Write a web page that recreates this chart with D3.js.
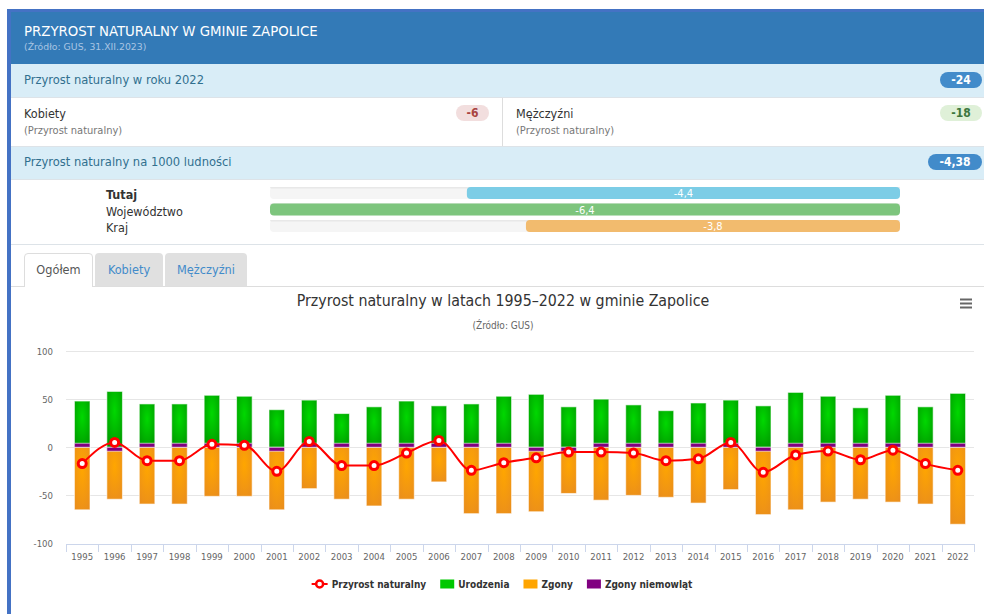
<!DOCTYPE html>
<html>
<head>
<meta charset="utf-8">
<script src="https://cdn.jsdelivr.net/npm/d3@7"></script>
<style>
  body { margin: 0; background: #fff; }
  svg { display: block; font-family: "DejaVu Sans Condensed", "DejaVu Sans", sans-serif; }
</style>
</head>
<body>
<svg id="page" width="984" height="614"></svg>
<script>
// ---- data ----
var years = [1995, 1996, 1997, 1998, 1999, 2000, 2001, 2002, 2003, 2004, 2005, 2006, 2007, 2008,
  2009, 2010, 2011, 2012, 2013, 2014, 2015, 2016, 2017, 2018, 2019, 2020, 2021, 2022];
var births = [48, 58, 45, 45, 54, 53, 39, 49, 35, 42, 48, 43, 45, 53,
  55, 42, 50, 44, 38, 46, 49, 43, 57, 53, 41, 54, 42, 56];
var deaths = [65, 53, 59, 59, 51, 51, 64, 43, 54, 61, 54, 36, 69, 69,
  66, 47, 55, 50, 52, 58, 44, 69, 65, 57, 54, 57, 59, 80];
var infantDeaths = [0, 1, 0, 0, 0, 0, 1, 0, 0, 0, 0, 0, 0, 0,
  1, 1, 0, 0, 0, 0, 0, 1, 0, 0, 0, 0, 0, 0];
var natural = [-17, 5, -14, -14, 3, 2, -25, 6, -19, -19, -6, 7, -24, -16,
  -11, -5, -5, -6, -14, -12, 5, -26, -8, -4, -13, -3, -17, -24];

var yTicks = [-100, -50, 0, 50, 100];

var seriesNames = ["Przyrost naturalny", "Urodzenia", "Zgony", "Zgony niemowląt"];
var seriesColors = ["#ff0000", "#00c800", "#ffa500", "#800080"];

var totalLabel = "Przyrost naturalny w roku 2022";
var totalValue = "-24";
var sexLabels = ["Kobiety", "Mężczyźni"];
var sexValues = ["-6", "-18"];
var rateLabel = "Przyrost naturalny na 1000 ludności";
var rateValue = "-4,38";
var compareLabels = ["Tutaj", "Województwo", "Kraj"];
var compareValues = [-4.4, -6.4, -3.8];
var compareColors = ["#7ccde6", "#7dc57d", "#f2bb6e"];
var tabLabels = ["Ogółem", "Kobiety", "Mężczyźni"];

var svg = d3.select("#page"),
  width = +svg.attr("width"),
  height = +svg.attr("height");

// ---- panel frame ----
svg.append("rect").attr("x", 11).attr("y", 12).attr("width", width - 11).attr("height", 52)
  .attr("fill", "#337ab7");
svg.append("rect").attr("x", 7).attr("y", 9).attr("width", width - 7).attr("height", 3)
  .attr("fill", "#4472c4");
svg.append("rect").attr("x", 7).attr("y", 9).attr("width", 4).attr("height", height - 9)
  .attr("fill", "#4472c4");

svg.append("text").attr("x", 24).attr("y", 36)
  .style("font-size", "14.8px").style("fill", "#fff")
  .text("PRZYROST NATURALNY W GMINIE ZAPOLICE");
svg.append("text").attr("x", 24).attr("y", 50)
  .style("font-family", "\"DejaVu Sans\", sans-serif")
  .style("font-size", "9.3px").style("fill", "#a9c5e3")
  .text("(Źródło: GUS, 31.XII.2023)");

function badge(xRight, yTop, w, text, bg, fg) {
  svg.append("rect").attr("x", xRight - w).attr("y", yTop).attr("width", w).attr("height", 16)
    .attr("rx", 8).attr("fill", bg);
  svg.append("text").attr("x", xRight - w / 2).attr("y", yTop + 12)
    .attr("text-anchor", "middle")
    .style("font-size", "12px").style("font-weight", "bold").style("fill", fg)
    .text(text);
}

function infoRow(y0, h, label, value, bw) {
  svg.append("rect").attr("x", 11).attr("y", y0).attr("width", width - 11).attr("height", h)
    .attr("fill", "#d9edf7");
  svg.append("text").attr("x", 24).attr("y", y0 + 20)
    .style("font-size", "12.8px").style("fill", "#31708f").text(label);
  badge(982, y0 + 8, bw, value, "#428bca", "#fff");
}

infoRow(64, 33, totalLabel, totalValue, 42);

// men / women cells
var sexX = [24, 516],
  sexRight = [489, 982],
  sexBadge = [["#f2dede", "#a94442", 33], ["#dff0d8", "#3c763d", 42]];
sexLabels.forEach(function(d, i) {
  svg.append("text").attr("x", sexX[i]).attr("y", 118)
    .style("font-size", "12.5px").style("fill", "#333").text(d);
  svg.append("text").attr("x", sexX[i]).attr("y", 134)
    .style("font-size", "11px").style("fill", "#777").text("(Przyrost naturalny)");
  badge(sexRight[i], 105, sexBadge[i][2], sexValues[i], sexBadge[i][0], sexBadge[i][1]);
});
svg.append("line").attr("x1", 502.5).attr("x2", 502.5).attr("y1", 97).attr("y2", 146)
  .style("stroke", "#ddd");

infoRow(146, 33, rateLabel, rateValue, 54);

[97, 146, 179, 244].forEach(function(yy) {
  svg.append("line").attr("x1", 11).attr("x2", width).attr("y1", yy + 0.5).attr("y2", yy + 0.5)
    .style("stroke", "#dde3e8");
});

// comparison bars
var barScale = d3.scaleLinear()
  .domain([0, d3.max(compareValues, function(d) { return Math.abs(d); })])
  .range([0, 630]);
var cmp = svg.append("g").selectAll("g").data(compareValues).enter().append("g")
  .attr("transform", function(d, i) { return "translate(0," + (187 + i * 16.5) + ")"; });
cmp.append("rect").attr("x", 270).attr("width", 630).attr("height", 12).attr("rx", 4)
  .attr("fill", "#f5f5f5");
cmp.append("rect").attr("x", 270).attr("width", 630).attr("height", 1.5).attr("rx", 1)
  .attr("fill", "#e8e8e8");
cmp.append("rect")
  .attr("x", function(d) { return 900 - barScale(Math.abs(d)); })
  .attr("width", function(d) { return barScale(Math.abs(d)); })
  .attr("height", 12).attr("rx", 4)
  .attr("fill", function(d, i) { return compareColors[i]; });
cmp.append("text")
  .attr("x", function(d) { return 900 - barScale(Math.abs(d)) / 2; })
  .attr("y", 10).attr("text-anchor", "middle")
  .style("font-size", "11px").style("fill", "#fff")
  .text(function(d) { return String(d).replace(".", ","); });
cmp.append("text").attr("x", 106).attr("y", 12)
  .style("font-size", "12.5px").style("fill", "#333")
  .style("font-weight", function(d, i) { return i === 0 ? "bold" : "normal"; })
  .text(function(d, i) { return compareLabels[i]; });

// ---- tabs ----
var tabX = [24, 95, 165], tabW = [69, 68, 82];
svg.append("line").attr("x1", 11).attr("x2", width).attr("y1", 286.5).attr("y2", 286.5)
  .style("stroke", "#ddd");
tabLabels.forEach(function(t, i) {
  var g = svg.append("g").attr("transform", "translate(" + tabX[i] + ",253)");
  if (i === 0) {
    g.append("path").attr("d", "M0.5,34V4Q0.5,0.5 4,0.5H" + (tabW[i] - 4) + "Q" + (tabW[i] - 0.5) + ",0.5 " + (tabW[i] - 0.5) + ",4V34")
      .attr("fill", "#fff").style("stroke", "#ddd");
  } else {
    g.append("path").attr("d", "M0,33.5V4Q0,0 4,0H" + (tabW[i] - 4) + "Q" + tabW[i] + ",0 " + tabW[i] + ",4V33.5Z")
      .attr("fill", "#e0e0e0");
  }
  g.append("text").attr("x", tabW[i] / 2).attr("y", 21).attr("text-anchor", "middle")
    .style("font-size", "12.6px").style("fill", i === 0 ? "#555" : "#428bca").text(t);
});

// ---- chart ----
svg.append("text").attr("x", 503).attr("y", 306).attr("text-anchor", "middle")
  .style("font-size", "15.8px").style("fill", "#333")
  .text("Przyrost naturalny w latach 1995–2022 w gminie Zapolice");
svg.append("text").attr("x", 503).attr("y", 329).attr("text-anchor", "middle")
  .style("font-size", "10px").style("fill", "#666").text("(Źródło: GUS)");
[299.5, 303.5, 307.5].forEach(function(yy) {
  svg.append("line").attr("x1", 960).attr("x2", 972).attr("y1", yy).attr("y2", yy)
    .style("stroke", "#666").style("stroke-width", 2);
});

var x = d3.scaleBand().domain(years).range([66, 974]);
var y = d3.scaleLinear().domain([-100, 100]).range([543.5, 351]);
var barW = x.bandwidth() * 0.48;
function cx(d) { return x(d) + x.bandwidth() / 2; }

var defs = svg.append("defs");
function radial(id, c0, c1) {
  var g = defs.append("radialGradient").attr("id", id)
    .attr("cx", "50%").attr("cy", "35%").attr("r", "75%");
  g.append("stop").attr("offset", "0%").attr("stop-color", c0);
  g.append("stop").attr("offset", "100%").attr("stop-color", c1);
}
radial("gGreen", "#00d800", "#009800");
radial("gOrange", "#ffa600", "#ea8e1c");

svg.append("g").selectAll("line").data(yTicks.slice(1)).enter().append("line")
  .attr("x1", 66).attr("x2", 974)
  .attr("y1", function(d) { return Math.round(y(d)) + 0.5; })
  .attr("y2", function(d) { return Math.round(y(d)) + 0.5; })
  .style("stroke", "#e6e6e6");

svg.append("g").selectAll("text").data(yTicks).enter().append("text")
  .attr("x", 53).attr("y", function(d) { return y(d) + 3.5; })
  .attr("text-anchor", "end")
  .style("font-size", "9.5px").style("fill", "#666")
  .text(function(d) { return d; });

// x axis
var xAxis = svg.append("g").attr("transform", "translate(0," + 544 + ")")
  .call(d3.axisBottom(x).tickSize(0).tickPadding(9));
xAxis.select(".domain").style("stroke", "#ccd6eb");
xAxis.selectAll("text").style("font-size", "9.5px").style("fill", "#666")
  .style("font-family", "\"DejaVu Sans Condensed\", \"DejaVu Sans\", sans-serif");
xAxis.selectAll(".tickmark").data(years.concat([null])).enter().append("line")
  .attr("class", "tickmark")
  .attr("x1", function(d, i) { return Math.round(66 + i * x.step()) + 0.5; })
  .attr("x2", function(d, i) { return Math.round(66 + i * x.step()) + 0.5; })
  .attr("y1", 0).attr("y2", 8)
  .style("stroke", "#ccd6eb");

var bars = svg.append("g");
// births
bars.selectAll(".birth").data(years).enter().append("rect").attr("class", "birth")
  .attr("x", function(d) { return cx(d) - barW / 2; })
  .attr("width", barW)
  .attr("y", function(d, i) { return y(births[i]); })
  .attr("height", function(d, i) { return y(0) - y(births[i]); })
  .attr("fill", "url(#gGreen)")
  .style("stroke", "#fff").style("stroke-opacity", 0.6);
// deaths stacked below infant deaths
bars.selectAll(".death").data(years).enter().append("rect").attr("class", "death")
  .attr("x", function(d) { return cx(d) - barW / 2; })
  .attr("width", barW)
  .attr("y", function(d, i) { return y(-infantDeaths[i]); })
  .attr("height", function(d, i) { return y(-infantDeaths[i] - deaths[i]) - y(-infantDeaths[i]); })
  .attr("fill", "url(#gOrange)")
  .style("stroke", "#fff").style("stroke-opacity", 0.6);
// infant deaths, drawn with a minimum length
var minLen = 4;
bars.selectAll(".infant").data(years).enter().append("rect").attr("class", "infant")
  .attr("x", function(d) { return cx(d) - barW / 2; })
  .attr("width", barW)
  .attr("y", function(d, i) {
    return infantDeaths[i] > 0 ? y(0) : y(0) - minLen;
  })
  .attr("height", function(d, i) {
    return Math.max(minLen, y(-infantDeaths[i]) - y(0));
  })
  .attr("fill", "#800080")
  .style("stroke", "#fff").style("stroke-opacity", 0.6);

// natural increase line
var line = d3.line()
  .x(function(d) { return cx(d); })
  .y(function(d, i) { return y(natural[i]); })
  .curve(d3.curveMonotoneX);
svg.append("path").datum(years).attr("d", line)
  .attr("fill", "none").style("stroke", "#ff0000").style("stroke-width", 2);
svg.append("g").selectAll("circle").data(years).enter().append("circle")
  .attr("cx", cx)
  .attr("cy", function(d, i) { return y(natural[i]); })
  .attr("r", 4)
  .attr("fill", "#fff").style("stroke", "#ff0000").style("stroke-width", 3);

// legend
var legend = svg.append("g").attr("transform", "translate(0,584)");
var lx = 0;
var items = legend.selectAll("g").data(seriesNames).enter().append("g");
items.each(function(d, i) {
  var g = d3.select(this);
  var sw = i === 0 ? 16 : 14;
  if (i === 0) {
    g.append("line").attr("x1", 0).attr("x2", 16).attr("y1", 0).attr("y2", 0)
      .style("stroke", seriesColors[0]).style("stroke-width", 2);
    g.append("circle").attr("cx", 8).attr("cy", 0).attr("r", 3.5)
      .attr("fill", "#fff").style("stroke", seriesColors[0]).style("stroke-width", 2.5);
  } else {
    g.append("rect").attr("x", 0).attr("y", -4.5).attr("width", sw).attr("height", 9)
      .attr("fill", seriesColors[i]);
  }
  var t = g.append("text").attr("x", sw + 4).attr("y", 3.5)
    .style("font-size", "10px").style("font-weight", "bold").style("fill", "#333")
    .text(d);
  g.attr("transform", "translate(" + lx + ",0)");
  lx += sw + 4 + t.node().getComputedTextLength() + 14;
});
lx -= 14;
legend.attr("transform", "translate(" + (502 - lx / 2) + ",584)");
</script>
</body>
</html>
